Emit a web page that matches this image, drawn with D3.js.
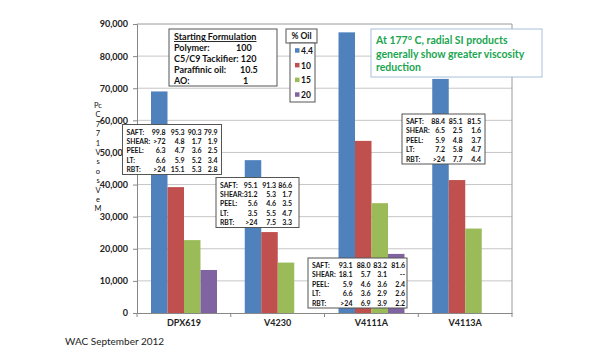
<!DOCTYPE html>
<html><head><meta charset="utf-8">
<script src="https://cdn.jsdelivr.net/npm/d3@7"></script>
<style>body{margin:0;background:#fff}svg{display:block}text{font-family:Lato,"Open Sans",sans-serif}</style>
</head><body><svg id="c" width="615" height="350"></svg>
<script>
// ---- data ----
const categories = ["DPX619", "V4230", "V4111A", "V4113A"];
const oilLevels = ["4.4", "10", "15", "20"];
const oil4_4 = [69000, 47600, 87400, 72900];
const oil10  = [39200, 25200, 53600, 41400];
const oil15  = [22700, 15700, 34200, 26300];
const oil20  = [13400, null, 18400, null];
const yTicks = [0, 10000, 20000, 30000, 40000, 50000, 60000, 70000, 80000, 90000];
const colors = ["#4F81BD", "#C0504D", "#9BBB59", "#8064A2"];
const formulation = [["Polymer:", "100"], ["C5/C9 Tackifier: 120", ""], ["Paraffinic oil:", "10.5"], ["AO:", "1"]];
const noteLines = ["At 177\u00B0 C, radial SI products", "generally show greater viscosity", "reduction"];
const tableDPX619 = [["SAFT:", "99.8", "95.3", "90.3", "79.9"], ["SHEAR:", ">72", "4.8", "1.7", "1.9"], ["PEEL:", "6.3", "4.7", "3.6", "2.5"], ["LT:", "6.6", "5.9", "5.2", "3.4"], ["RBT:", ">24", "15.1", "5.3", "2.8"]];
const tableV4230 = [["SAFT:", "95.1", "91.3", "86.6"], ["SHEAR:", "31.2", "5.3", "1.7"], ["PEEL:", "5.6", "4.6", "3.5"], ["LT:", "3.5", "5.5", "4.7"], ["RBT:", ">24", "7.5", "3.3"]];
const tableV4111A = [["SAFT:", "93.1", "88.0", "83.2", "81.6"], ["SHEAR:", "18.1", "5.7", "3.1", "--"], ["PEEL:", "5.9", "4.6", "3.6", "2.4"], ["LT:", "6.6", "3.6", "2.9", "2.6"], ["RBT:", ">24", "6.9", "3.9", "2.2"]];
const tableV4113A = [["SAFT:", "88.4", "85.1", "81.5"], ["SHEAR:", "6.5", "2.5", "1.6"], ["PEEL:", "5.9", "4.8", "3.7"], ["LT:", "7.2", "5.8", "4.7"], ["RBT:", ">24", "7.7", "4.4"]];
const yTitleChars = ["Pc", "C", "7", "7", "1", "V", "s", "o", "s", "V", "e", "M"];

const series = [oil4_4, oil10, oil15, oil20];
const svg = d3.select("#c");
const L = 137, R = 512, T = 24, B = 313;
const x = d3.scaleBand().domain(categories).range([L, R]);
const xi = d3.scaleBand().domain(oilLevels).range([14, 80]);
const y = d3.scaleLinear().domain([0, 90000]).range([B, T]);

// gridlines
svg.append("g").selectAll("line").data(yTicks.slice(1, -1)).join("line")
  .attr("x1", L).attr("x2", R).attr("y1", d => y(d)).attr("y2", d => y(d))
  .attr("stroke", "#c6c6c6").attr("stroke-width", 1);
// frame top/right
svg.append("path").attr("d", `M${L},${y(90000)}H${R}V${B}`).attr("fill", "none").attr("stroke", "#9a9a9a");

// y axis
const ya = svg.append("g").attr("transform", `translate(${L},0)`)
  .call(d3.axisLeft(y).tickValues(yTicks).tickSize(4).tickPadding(5).tickFormat(d3.format(",")));
ya.select(".domain").attr("stroke", "#888");
ya.selectAll(".tick line").attr("stroke", "#888");
ya.selectAll("text").attr("font-size", 9).attr("font-weight", "bold").attr("fill", "#222");

// bars
const data = [];
categories.forEach((c, i) => series.forEach((s, j) => { if (s[i] != null) data.push({ c, k: oilLevels[j], v: s[i], j }); }));
svg.append("g").selectAll("rect").data(data).join("rect")
  .attr("x", d => x(d.c) + xi(d.k)).attr("width", xi.bandwidth())
  .attr("y", d => y(d.v)).attr("height", d => B - y(d.v))
  .attr("fill", d => colors[d.j]);

// x axis
const xa = svg.append("g").attr("transform", `translate(0,${B})`)
  .call(d3.axisBottom(x).tickSize(0).tickPadding(7));
xa.select(".domain").attr("stroke", "#888");
xa.selectAll("text").attr("font-size", 9).attr("font-weight", "bold").attr("fill", "#222");
svg.append("g").selectAll("line").data(categories.map(c => x(c)).concat([R])).join("line")
  .attr("x1", d => d).attr("x2", d => d).attr("y1", B).attr("y2", B + 4).attr("stroke", "#888");

// y title (garbled stacked chars, as in the reference)
svg.append("g").selectAll("text").data(yTitleChars).join("text")
  .attr("x", 98).attr("y", (d, i) => 108 + i * 9.4).attr("text-anchor", "middle")
  .attr("font-size", 7.5).attr("fill", "#111").text(d => d);

// starting formulation box
svg.append("rect").attr("x", 169).attr("y", 29).attr("width", 108).attr("height", 57)
  .attr("fill", "#fff").attr("stroke", "#555");
svg.append("text").attr("x", 174).attr("y", 40).attr("font-size", 9).attr("font-weight", "bold")
  .attr("text-decoration", "underline").attr("fill", "#111").text("Starting Formulation");
const fx = [236, 0, 240, 243];
formulation.forEach((r, i) => {
  svg.append("text").attr("x", 174).attr("y", 51 + i * 10.9).attr("font-size", 9).attr("font-weight", "bold").attr("fill", "#111").text(r[0]);
  if (r[1]) svg.append("text").attr("x", fx[i]).attr("y", 51 + i * 10.9).attr("font-size", 9).attr("font-weight", "bold").attr("fill", "#111").text(r[1]);
});

// legend
svg.append("rect").attr("x", 286).attr("y", 29).attr("width", 31).attr("height", 14).attr("fill", "#fff").attr("stroke", "#555");
svg.append("text").attr("x", 301.5).attr("y", 39).attr("text-anchor", "middle").attr("font-size", 8.5).attr("font-weight", "bold").attr("fill", "#111").text("% Oil");
svg.append("rect").attr("x", 290).attr("y", 43).attr("width", 25).attr("height", 59).attr("fill", "#fff").attr("stroke", "#555");
const lg = svg.append("g").selectAll("g").data(oilLevels).join("g")
  .attr("transform", (d, i) => `translate(295,${50.7 + i * 14.7})`);
lg.append("rect").attr("x", 0).attr("y", -2.5).attr("width", 4.5).attr("height", 4.5).attr("fill", (d, i) => colors[i]);
lg.append("text").attr("x", 6).attr("y", 3.3).attr("font-size", 8.5).attr("font-weight", "bold").attr("fill", "#111").text(d => d);

// green note box
svg.append("rect").attr("x", 371).attr("y", 29).attr("width", 171).attr("height", 48).attr("fill", "#fff").attr("stroke", "#a8c0dc");
noteLines.forEach((t, i) => svg.append("text").attr("x", 376).attr("y", 44 + i * 13.5)
  .attr("font-size", 10.5).attr("font-weight", "bold").attr("fill", "#1aa550").text(t));

// property tables
function table(rows, bx, by, w, cols) {
  const g = svg.append("g");
  g.append("rect").attr("x", bx).attr("y", by).attr("width", w).attr("height", 50)
    .attr("fill", "#fff").attr("stroke", "#555");
  rows.forEach((r, i) => {
    const yy = by + 10 + i * 9.4;
    g.append("text").attr("x", bx + 4).attr("y", yy).attr("font-size", 6.8).attr("font-weight", "bold").attr("fill", "#111").text(r[0]);
    r.slice(1).forEach((v, k) => g.append("text").attr("x", bx + cols[k]).attr("y", yy).attr("text-anchor", "end")
      .attr("font-size", 7).attr("font-weight", "bold").attr("fill", "#111").text(v));
  });
}
table(tableDPX619, 122.5, 124.5, 99, [43, 62, 79, 95]);
table(tableV4230, 216, 177.5, 83, [41.5, 60, 76]);
table(tableV4111A, 308, 258, 99, [44.5, 62.5, 79, 97]);
table(tableV4113A, 402, 114, 83, [43, 60.5, 79]);

// footer
svg.append("text").attr("x", 65).attr("y", 345).attr("font-size", 10).attr("fill", "#222").text("WAC September 2012");
</script></body></html>
